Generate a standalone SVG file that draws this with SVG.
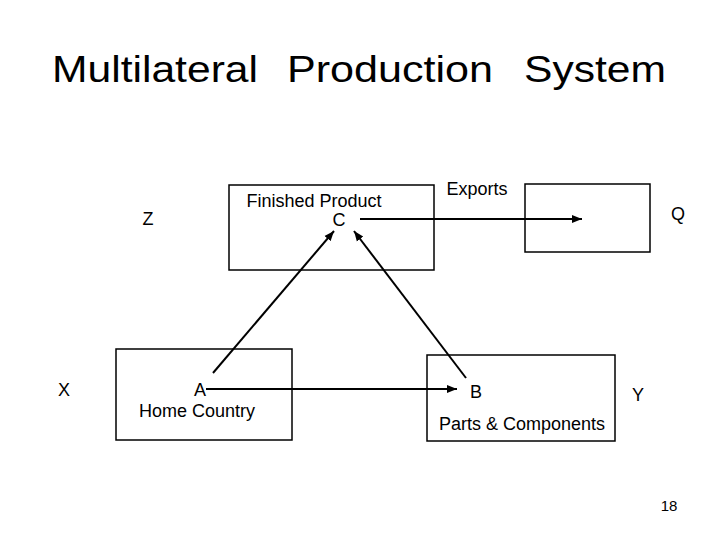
<svg xmlns="http://www.w3.org/2000/svg" width="720" height="540" viewBox="0 0 720 540">
<style>
.box{fill:none;stroke:#000;stroke-width:1.5}
.ln{fill:none;stroke:#000;stroke-width:2}
text{font-family:"Liberation Sans",Arial,sans-serif;font-size:18px;fill:#000}
.t{font-size:36px}
.m{text-anchor:middle}
</style>
<defs>
<marker id="ah" viewBox="0 0 10 10" refX="10" refY="5" markerWidth="5" markerHeight="5" orient="auto" markerUnits="strokeWidth">
<path d="M0,1 L10,5 L0,9 Z" fill="#000"/>
</marker>
</defs>
<rect width="720" height="540" fill="#fff"/>
<g id="title">
<text class="t" x="52" y="82" textLength="206" lengthAdjust="spacingAndGlyphs">Multilateral</text>
<text class="t" x="287" y="82" textLength="206" lengthAdjust="spacingAndGlyphs">Production</text>
<text class="t" x="524" y="82" textLength="142" lengthAdjust="spacingAndGlyphs">System</text>
</g>
<g id="nodeC">
<rect class="box" x="229" y="185" width="205" height="85"/>
<text class="m" x="314" y="207">Finished Product</text>
<text class="m" x="339" y="226">C</text>
</g>
<g id="nodeQ">
<rect class="box" x="525" y="184" width="125" height="68"/>
</g>
<g id="nodeA">
<rect class="box" x="116" y="349" width="176" height="91"/>
<text class="m" x="200" y="396">A</text>
<text class="m" x="197" y="417">Home Country</text>
</g>
<g id="nodeB">
<rect class="box" x="427" y="355" width="188" height="86"/>
<text class="m" x="476" y="398">B</text>
<text class="m" x="522" y="430">Parts &amp; Components</text>
</g>
<g id="labels">
<text class="m" x="148" y="225">Z</text>
<text class="m" x="64" y="396">X</text>
<text class="m" x="678" y="220">Q</text>
<text class="m" x="638" y="401">Y</text>
<text class="m" x="477" y="195">Exports</text>
<text class="m" x="669" y="511" style="font-size:15px">18</text>
</g>
<g id="connectors">
<line class="ln" x1="360" y1="219" x2="582" y2="219" marker-end="url(#ah)"/>
<line class="ln" x1="206" y1="389" x2="457" y2="389" marker-end="url(#ah)"/>
<line class="ln" x1="213" y1="373" x2="334" y2="231" marker-end="url(#ah)"/>
<line class="ln" x1="466" y1="378" x2="354" y2="231" marker-end="url(#ah)"/>
</g>
</svg>
